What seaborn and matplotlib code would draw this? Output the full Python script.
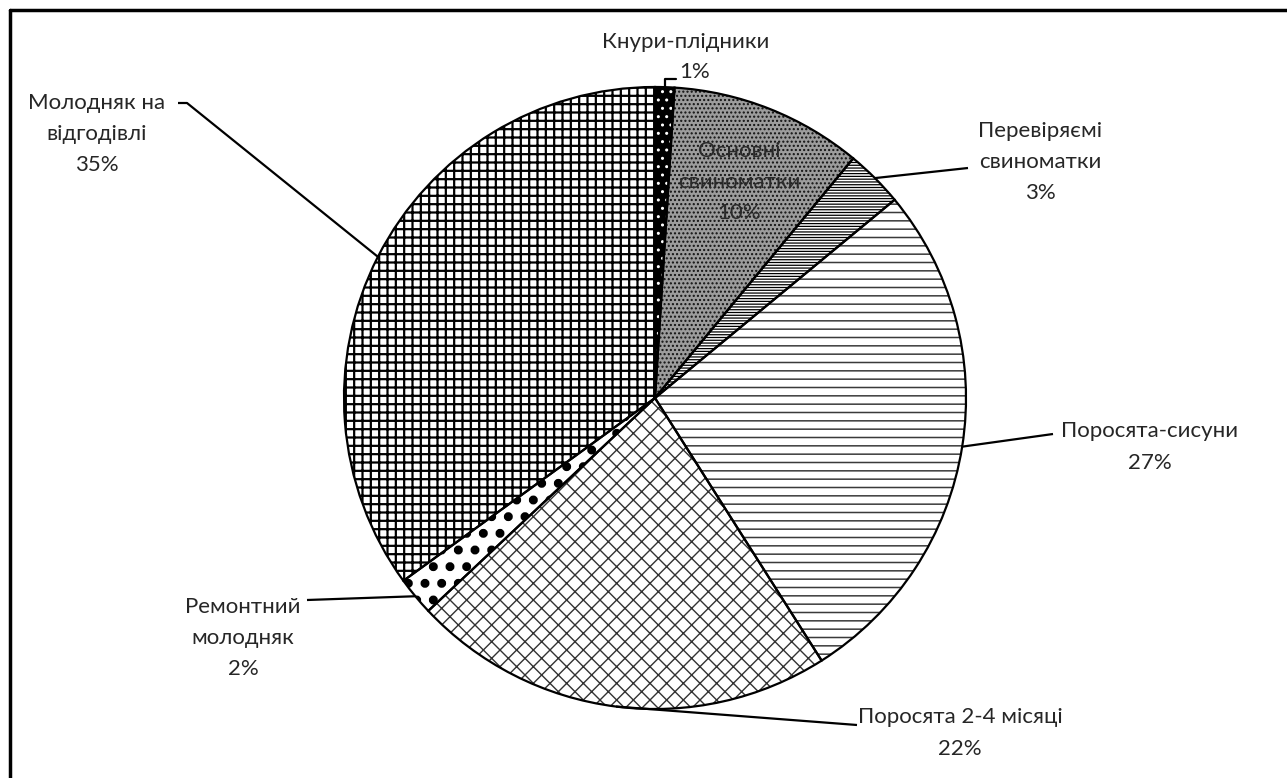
import numpy as np
import seaborn as sns
import matplotlib.pyplot as plt
from matplotlib.lines import Line2D

sns.set_theme(style="white")
plt.rcParams['font.family'] = ['Lato', 'DejaVu Sans']
plt.rcParams['hatch.linewidth'] = 1.4

# data
categories = ["Кнури-плідники", "Основні свиноматки", "Перевіряємі свиноматки",
              "Поросята-сисуни", "Поросята 2-4 місяці", "Ремонтний молодняк",
              "Молодняк на відгодівлі"]
shares = [1, 10, 3, 27, 22, 2, 35]
label_text = ["Кнури-плідники\n1%", "Основні\nсвиноматки\n10%", "Перевіряємі\nсвиноматки\n3%",
              "Поросята-сисуни\n27%", "Поросята 2-4 місяці\n22%", "Ремонтний\nмолодняк\n2%",
              "Молодняк на\nвідгодівлі\n35%"]

# styles (hatch colour = edgecolor of the fill layer)
faces = ["black", "#9c9c9c", "white", "white", "white", "white", "white"]
hatch_cols = ["white", "#111111", "black", "#3a3a3a", "#333333", "black", "black"]
hatches = ["..", "....", "------", "--", "xx", ".", "++"]
hatch_lw = [1.0, 1.0, 0.9, 1.1, 1.0, 4.0, 1.6]

W, H = 1287, 778
fig = plt.figure(figsize=(W / 100, H / 100), dpi=100)
ax = fig.add_axes([0, 0, 1, 1])

cx, cy, R = 655, H - 398, 311

wedges, _ = ax.pie(shares, startangle=90, counterclock=False, center=(cx, cy), radius=R,
                   colors=faces, wedgeprops=dict(linewidth=0))
for w, h, hc, hl in zip(wedges, hatches, hatch_cols, hatch_lw):
    w.set_hatch(h)
    w.set_edgecolor(hc)
    if hasattr(w, "set_hatch_linewidth"):
        w.set_hatch_linewidth(hl)

# outlines on top
ax.pie(shares, startangle=90, counterclock=False, center=(cx, cy), radius=R,
       wedgeprops=dict(fill=False, edgecolor="black", linewidth=1.6))

ax.set_xlim(0, W)
ax.set_ylim(0, H)
ax.set_aspect('equal')
ax.axis('off')

# label layout: (text x, text y, elbow points) in image pixels (y down)
layout = {
    2: (1040, 162, [(968, 168)]),
    3: (1150, 447, [(1053, 434)]),
    4: (960, 733, [(857, 725)]),
    5: (243, 638, [(307, 600)]),
    6: (97, 134, [(187, 103), (178, 103)]),
}

fs = 16
tc = '#262626'
for i, w in enumerate(wedges):
    mid = np.deg2rad((w.theta1 + w.theta2) / 2)
    ex, ey = cx + R * np.cos(mid), cy + R * np.sin(mid)
    if i == 1:
        ax.text(cx + 0.27 * R, H - 182, label_text[i], ha='center', va='center',
                fontsize=fs, color='#2a2a2a', linespacing=1.7)
        continue
    if i == 0:
        name, pct = label_text[i].split("\n")
        ax.plot([ex, ex, 676], [ey, H - 79, H - 79], color='black', lw=1.6)
        ax.text(686, H - 42, name, ha='center', va='center', fontsize=fs, color=tc)
        ax.text(679, H - 72, pct, ha='left', va='center', fontsize=fs, color=tc)
        continue
    tx, ty, pts = layout[i]
    xs = [ex] + [p[0] for p in pts]
    ys = [ey] + [H - p[1] for p in pts]
    ax.plot(xs, ys, color='black', lw=1.6, solid_capstyle='butt')
    ax.text(tx, H - ty, label_text[i], ha='center', va='center', fontsize=fs,
            color=tc, linespacing=1.7)

# frame lines (top and left)
fig.add_artist(Line2D([10 / W, 1], [1 - 10 / H, 1 - 10 / H], color='black', lw=2.5))
fig.add_artist(Line2D([10 / W, 10 / W], [0, 1 - 10 / H], color='black', lw=2.5))

fig.savefig("out.png", dpi=100, facecolor='white')
